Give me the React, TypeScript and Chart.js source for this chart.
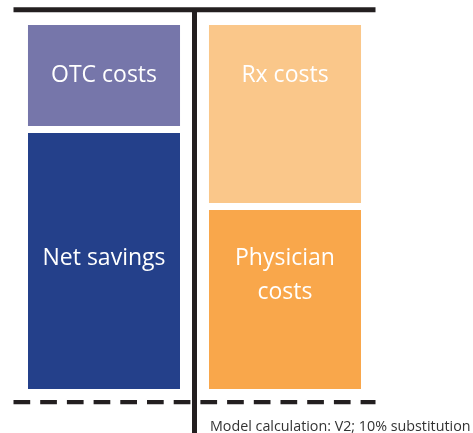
import React, { useEffect, useRef } from "react";
import { Chart, registerables } from "chart.js";

Chart.register(...registerables);

const categories = ["Savings", "Costs"];
const bottomValues = [72.25, 51.1];
const topValues = [27.75, 48.9];
const bottomLabels: (string | string[])[] = ["Net savings", ["Physician", "costs"]];
const topLabels: (string | string[])[] = ["OTC costs", "Rx costs"];
const bottomColors = ["#24408a", "#f9a74b"];
const topColors = ["#7676aa", "#fac78a"];
const footerText = "Model calculation: V2; 10% substitution";

const LINE = "#231f20";
const FONT = "'Open Sans', sans-serif";

const overlayPlugin = {
  id: "overlay",
  afterDatasetsDraw(chart: any) {
    const ctx = chart.ctx;
    ctx.save();
    ctx.fillStyle = "#ffffff";
    ctx.font = `23px ${FONT}`;
    ctx.textAlign = "center";
    ctx.textBaseline = "alphabetic";
    const lineH = 34;
    // top segments: first baseline measured from the bar top
    const topMeta = chart.getDatasetMeta(1);
    topMeta.data.forEach((bar: any, i: number) => {
      const p = bar.getProps(["x", "y", "base"], true);
      const top = Math.min(p.y, p.base);
      const lab = topLabels[i];
      const lines = Array.isArray(lab) ? lab : [lab];
      lines.forEach((t, k) => ctx.fillText(t, p.x, top + 57 + k * lineH));
    });
    // bottom segments: first baseline measured from the bar bottom
    const botMeta = chart.getDatasetMeta(0);
    botMeta.data.forEach((bar: any, i: number) => {
      const p = bar.getProps(["x", "y", "base"], true);
      const bottom = Math.max(p.y, p.base);
      const lab = bottomLabels[i];
      const lines = Array.isArray(lab) ? lab : [lab];
      lines.forEach((t, k) => ctx.fillText(t, p.x, bottom - 124.5 + k * lineH));
    });
    ctx.restore();
  },
  afterDraw(chart: any) {
    const ctx = chart.ctx;
    const { left, right } = chart.chartArea;
    const xs = chart.scales.x;
    const midX = (xs.getPixelForValue(0) + xs.getPixelForValue(1)) / 2;
    ctx.save();
    ctx.strokeStyle = LINE;
    ctx.lineWidth = 5;
    ctx.beginPath();
    ctx.moveTo(left, 9.8);
    ctx.lineTo(right, 9.8);
    ctx.stroke();
    ctx.beginPath();
    ctx.moveTo(midX, 8);
    ctx.lineTo(midX, chart.height);
    ctx.stroke();
    ctx.lineWidth = 4.3;
    ctx.setLineDash([16.7, 10]);
    ctx.beginPath();
    ctx.moveTo(left, 402.2);
    ctx.lineTo(right, 402.2);
    ctx.stroke();
    ctx.setLineDash([]);
    ctx.fillStyle = "#333333";
    ctx.font = `14.3px ${FONT}`;
    ctx.textAlign = "left";
    ctx.textBaseline = "alphabetic";
    ctx.fillText(footerText, 210, 431);
    ctx.restore();
  },
};

export default function App() {
  const ref = useRef<HTMLCanvasElement | null>(null);
  useEffect(() => {
    if (!ref.current) return;
    const chart = new Chart(ref.current, {
      type: "bar",
      data: {
        labels: categories,
        datasets: [
          {
            label: "Bottom",
            data: bottomValues,
            backgroundColor: bottomColors,
            borderColor: "#ffffff",
            borderWidth: { top: 7, left: 0, right: 0, bottom: 0 },
            borderSkipped: false,
            categoryPercentage: 1,
            barPercentage: 0.84,
          },
          {
            label: "Top",
            data: topValues,
            backgroundColor: topColors,
            borderWidth: 0,
            categoryPercentage: 1,
            barPercentage: 0.84,
          },
        ],
      },
      options: {
        responsive: false,
        animation: false,
        devicePixelRatio: 1,
        layout: { padding: { left: 13.5, right: 97.5, top: 25, bottom: 44 } },
        plugins: { legend: { display: false }, tooltip: { enabled: false } },
        scales: {
          x: { stacked: true, display: false },
          y: { stacked: true, display: false, min: 0, max: 100 },
        },
      },
      plugins: [overlayPlugin],
    });
    return () => chart.destroy();
  }, []);
  return (
    <div style={{ position: "fixed", left: 0, top: 0, width: 473, height: 433, background: "#fff" }}>
      <canvas ref={ref} width={473} height={433} />
    </div>
  );
}
